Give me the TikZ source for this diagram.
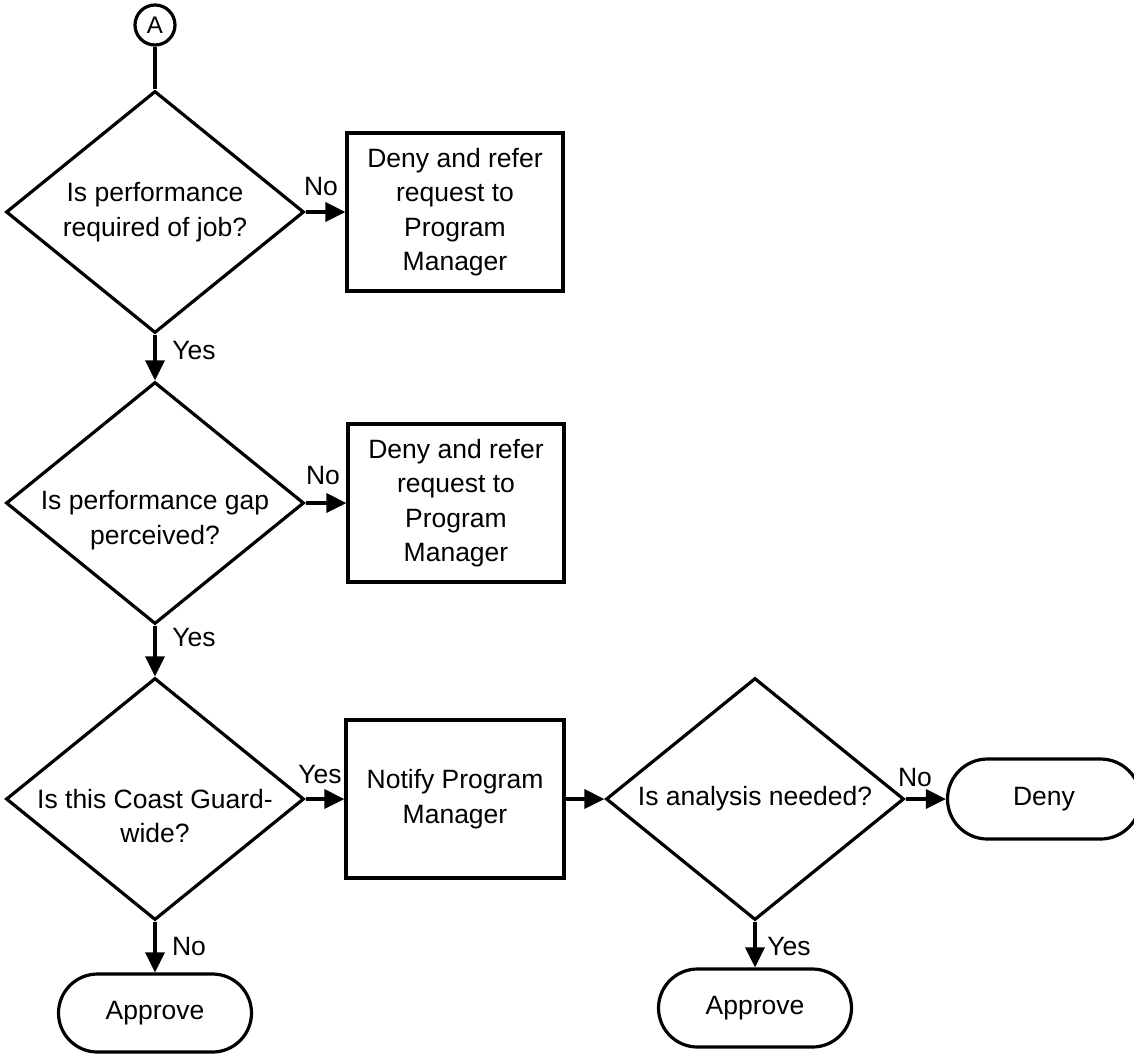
\documentclass[tikz,border=0pt]{standalone}
\usepackage{fontspec}
\setmainfont{Liberation Sans}
\usetikzlibrary{shapes.geometric,shapes.misc,arrows.meta}
\begin{document}
\begin{tikzpicture}[x=1pt,y=-1pt,
  line width=3.2pt,
  every node/.style={font=\fontsize{26.5}{34.5}\selectfont},
  dec/.style={draw,diamond,minimum width=298pt,minimum height=242pt,inner sep=0pt},
  txt/.style={align=center,inner sep=0pt},
  procbox/.style={draw,rectangle,minimum width=216pt,minimum height=158pt,inner sep=0pt,align=center},
  term/.style={draw,rounded rectangle,minimum width=193pt,minimum height=78pt,inner sep=0pt},
  lbl/.style={inner sep=0pt},
  conn/.style={draw,circle,minimum size=40pt,inner sep=0pt,font=\fontsize{24}{28}\selectfont},
  arr/.style={-{Triangle[length=20pt,width=19pt]}}
]
\useasboundingbox (0,0) rectangle (1134,1053);

\node[conn] (A) at (155,25) {A};

\node[dec] (d1) at (155,212) {};
\node[txt] (d1t) at (155,212) {Is performance\\required of job?};
\node[procbox] (b1) at (455,212) {Deny and refer\\request to\\Program\\Manager};

\node[dec] (d2) at (155,503) {};
\node[txt] (d2t) at (155,520) {Is performance gap\\perceived?};
\node[procbox] (b2) at (456,503) {Deny and refer\\request to\\Program\\Manager};

\node[dec] (d3) at (155,799) {};
\node[txt] (d3t) at (155,816) {Is this Coast Guard-\\wide?};
\node[procbox,minimum width=218pt] (b3) at (455,799) {Notify Program\\Manager};

\node[dec] (d4) at (755,799) {};
\node[txt] (d4t) at (755,799) {Is analysis needed?};

\node[term,minimum height=80pt] (deny) at (1044,799) {Deny};
\node[term] (app1) at (155,1013) {Approve};
\node[term] (app2) at (755,1008) {Approve};

\draw (A) -- (d1.north);
\draw[arr] (d1.east) -- (b1.west);
\draw[arr] (d1.south) -- (d2.north);
\draw[arr] (d2.east) -- (b2.west);
\draw[arr] (d2.south) -- (d3.north);
\draw[arr] (d3.east) -- (b3.west);
\draw[arr] (d3.south) -- (app1.north);
\draw[arr] (b3.east) -- (d4.west);
\draw[arr] (d4.east) -- (deny.west);
\draw[arr] (d4.south) -- (app2.north);

\node[lbl] (l1) at (321,187) {No};
\node[lbl] (l2) at (194,351) {Yes};
\node[lbl] (l3) at (323,476) {No};
\node[lbl] (l4) at (194,637) {Yes};
\node[lbl] (l5) at (320,774) {Yes};
\node[lbl] (l6) at (189,946) {No};
\node[lbl] (l7) at (915,777) {No};
\node[lbl] (l8) at (789,946) {Yes};
\end{tikzpicture}
\end{document}
